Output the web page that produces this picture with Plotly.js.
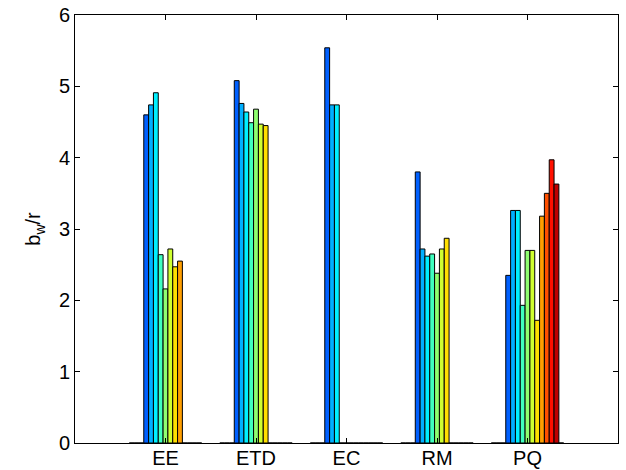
<!DOCTYPE html>
<html>
<head>
<meta charset="utf-8">
<script src="https://cdn.plot.ly/plotly-3.0.1.min.js"></script>
<style>html,body{margin:0;padding:0;background:#fff;}#chart{width:626px;height:470px;}</style>
</head>
<body>
<div id="chart"></div>
<script>
// Categories (x tick labels)
var categories = ["EE", "ETD", "EC", "RM", "PQ"];
var groupPositions = [1, 2, 3, 4, 5];

// Values per category, one entry per series (15 series; zeros are empty slots)
var valuesEE  = [0, 0, 0, 4.60, 4.74, 4.91, 2.64, 2.16, 2.72, 2.47, 2.55, 0, 0, 0, 0];
var valuesETD = [0, 0, 0, 5.08, 4.76, 4.64, 4.49, 4.68, 4.47, 4.45, 0, 0, 0, 0, 0];
var valuesEC  = [0, 0, 0, 5.54, 4.74, 4.74, 0, 0, 0, 0, 0, 0, 0, 0, 0];
var valuesRM  = [0, 0, 0, 3.80, 2.72, 2.62, 2.65, 2.38, 2.72, 2.87, 0, 0, 0, 0, 0];
var valuesPQ  = [0, 0, 0, 2.35, 3.26, 3.26, 1.93, 2.70, 2.70, 1.72, 3.18, 3.50, 3.97, 3.63, 0];

// Series colours (jet colormap, 15 entries)
var seriesColors = [
  "rgb(0,0,143)", "rgb(0,0,207)", "rgb(0,16,255)", "rgb(0,96,255)", "rgb(0,175,255)",
  "rgb(0,239,255)", "rgb(64,255,191)", "rgb(143,255,112)", "rgb(207,255,48)", "rgb(255,223,0)",
  "rgb(255,159,0)", "rgb(255,80,0)", "rgb(255,16,0)", "rgb(191,0,0)", "rgb(128,0,0)"
];

var table = [valuesEE, valuesETD, valuesEC, valuesRM, valuesPQ];
var nSeries = valuesEE.length;
var traces = [];
for (var s = 0; s < nSeries; s++) {
  traces.push({
    type: "bar",
    x: groupPositions,
    y: table.map(function (row) { return row[s]; }),
    marker: { color: seriesColors[s], line: { color: "#000", width: 1 } },
    showlegend: false,
    hoverinfo: "skip"
  });
}

var fontFam = "'Liberation Sans', Arial, Helvetica, sans-serif";
var layout = {
  width: 626,
  height: 470,
  margin: { l: 75, r: 8, t: 15, b: 27 },
  paper_bgcolor: "#fff",
  plot_bgcolor: "#fff",
  barmode: "group",
  bargap: 0.2,
  bargroupgap: 0,
  font: { family: fontFam, size: 20, color: "#000" },
  xaxis: {
    range: [0, 6],
    tickvals: groupPositions,
    ticktext: categories,
    ticks: "inside",
    ticklen: 5,
    tickcolor: "#000",
    showline: true,
    linecolor: "#000",
    linewidth: 1,
    mirror: "ticks",
    showgrid: false,
    zeroline: false,
    ticklabelstandoff: -3,
    tickfont: { family: fontFam, size: 20, color: "#000" }
  },
  yaxis: {
    range: [0, 6],
    dtick: 1,
    tick0: 0,
    ticks: "inside",
    ticklen: 5,
    tickcolor: "#000",
    showline: true,
    linecolor: "#000",
    linewidth: 1,
    mirror: "ticks",
    showgrid: false,
    zeroline: false,
    tickfont: { family: fontFam, size: 20, color: "#000" },
    title: { text: "b<sub>w</sub>/r", font: { family: fontFam, size: 20, color: "#000" }, standoff: 12 }
  }
};

Plotly.newPlot("chart", traces, layout, { staticPlot: true, displayModeBar: false });
</script>
</body>
</html>
